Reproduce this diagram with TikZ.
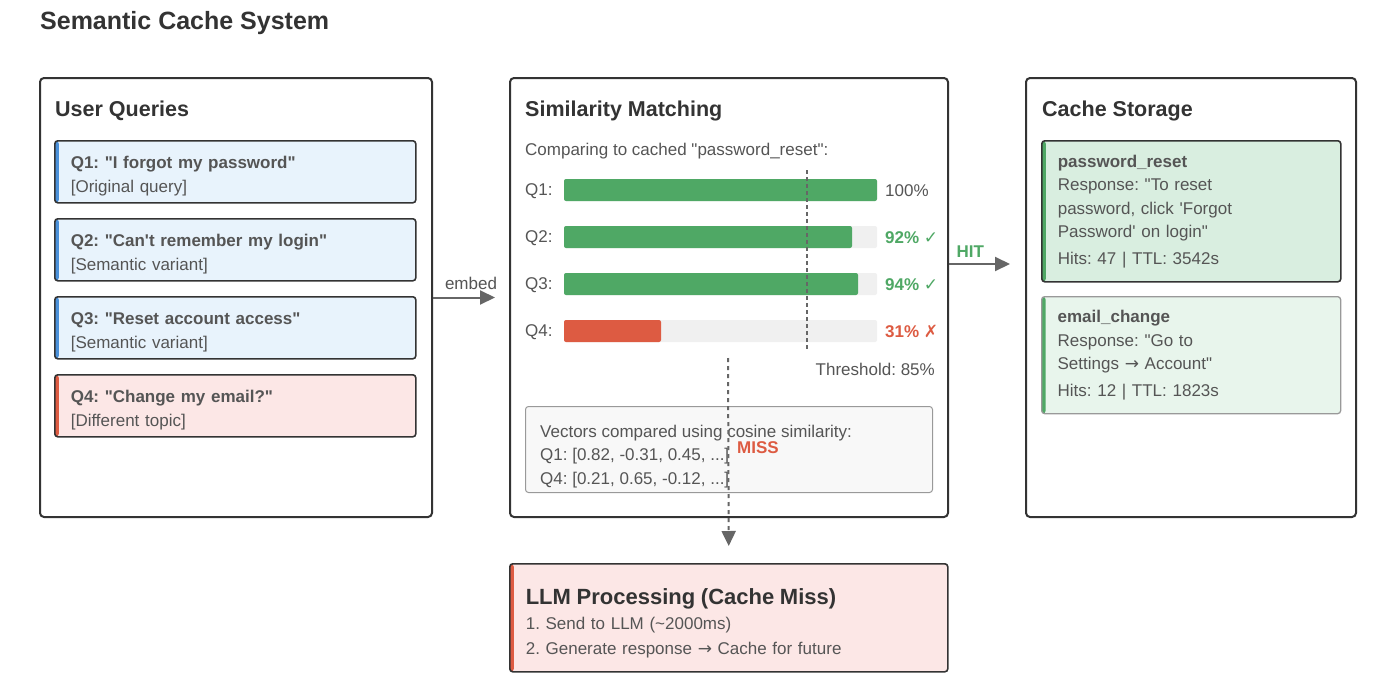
\documentclass[tikz,border=0pt]{standalone}
\usepackage{fontspec}
\setmainfont{Liberation Sans}[Ligatures=TeXOff]
\newfontfamily\simbolos{DejaVu Sans}
\usetikzlibrary{arrows.meta,calc}
\frenchspacing
\definecolor{borde}{HTML}{333333}
\definecolor{texto}{HTML}{555555}
\definecolor{flechagris}{HTML}{666666}
\definecolor{azul}{HTML}{4A90D9}
\definecolor{azulclaro}{HTML}{E8F3FC}
\definecolor{rojo}{HTML}{DD5B42}
\definecolor{rojoclaro}{HTML}{FCE7E6}
\definecolor{verde}{HTML}{4FA865}
\definecolor{verdeclaro}{HTML}{D9EEE0}
\definecolor{verdepalido}{HTML}{E8F5EC}
\definecolor{grisclaro}{HTML}{F0F0F0}
\definecolor{gris}{HTML}{999999}
\definecolor{grisfondo}{HTML}{F8F8F8}
\newcommand\cuerpo{\fontsize{17}{23.5}\selectfont}
\tikzset{
  panel/.style={draw=borde,line width=2pt,rounded corners=4pt,fill=white,anchor=north west,inner sep=0pt,minimum height=439pt},
  encabezado/.style={anchor=base west,inner sep=0pt,text=borde,font=\fontsize{21.5}{25}\selectfont\bfseries},
  etiqueta/.style={anchor=base west,inner sep=0pt,text=texto,font=\cuerpo},
  caja/.style={draw=borde,line width=1.6pt,rounded corners=3pt,anchor=north west,align=left,
    inner xsep=16pt,inner ysep=0pt,text=texto,font=\cuerpo,
    path picture={\fill[#1] (path picture bounding box.north west) rectangle ([xshift=4pt]path picture bounding box.south west);}},
  hueco/.style={execute at begin node={\rule{0pt}{#1}}},
  consulta/.style={caja=#1,text width=329pt,minimum height=62pt,hueco=21pt},
  flecha/.style={draw=flechagris,line width=2pt,-{Triangle[width=14pt,length=15pt]}},
  umbral/.style={draw=flechagris,line width=1.2pt,dash pattern=on 4pt off 3pt}
}

\begin{document}
\begin{tikzpicture}[x=1pt,y=-1pt]
\fill[white] (0,0) rectangle (1393,696);
\useasboundingbox (0,0) rectangle (1393,696);

\node[anchor=base west,inner sep=0pt,text=borde,font=\fontsize{25}{30}\selectfont\bfseries] (titulo) at (40,30) {Semantic Cache System};

% tres paneles
\node[panel,minimum width=392pt] (consultas) at (39,77) {};
\node[panel,minimum width=438pt] (similitud) at (509,77) {};
\node[panel,minimum width=330pt] (almacen) at (1025,77) {};

\node[encabezado] (tconsultas) at (55,116) {User Queries};
\node[encabezado] (tsimilitud) at (525,116) {Similarity Matching};
\node[encabezado] (talmacen) at (1042,116) {Cache Storage};

% consultas
\node[consulta=azul,fill=azulclaro] (q1) at (54,140)
{\textbf{Q1: "I forgot my password"}\\{}[Original query]};
\node[consulta=azul,fill=azulclaro] (q2) at (54,218)
{\textbf{Q2: "Can't remember my login"}\\{}[Semantic variant]};
\node[consulta=azul,fill=azulclaro] (q3) at (54,296)
{\textbf{Q3: "Reset account access"}\\{}[Semantic variant]};
\node[consulta=rojo,fill=rojoclaro] (q4) at (54,374)
{\textbf{Q4: "Change my email?"}\\{}[Different topic]};

% similitud
\node[etiqueta] (comparando) at (525,155) {Comparing to cached "password\_reset":};
\foreach \q/\y/\fin/\col in {1/190/877/verde,2/237/852/verde,3/284/858/verde,4/331/661/rojo}{
  \node[etiqueta] (lq\q) at (525,\y+5) {Q\q:};
  \fill[grisclaro,rounded corners=2pt] (564,\y-11) rectangle (877,\y+11);
  \fill[\col,rounded corners=2pt] (564,\y-11) rectangle (\fin,\y+11);
}
\node[etiqueta] (p1) at (885,196) {100\%};
\node[etiqueta,text=verde,font=\cuerpo\bfseries] (p2) at (885,243) {92\% {\simbolos ✓}};
\node[etiqueta,text=verde,font=\cuerpo\bfseries] (p3) at (885,290) {94\% {\simbolos ✓}};
\node[etiqueta,text=rojo,font=\cuerpo\bfseries] (p4) at (885,337) {31\% {\simbolos ✗}};
\draw[umbral] (807,170) -- (807,351);
\node[etiqueta,anchor=base east] (umbraltxt) at (935,375) {Threshold: 85\%};

\node[draw=gris,fill=grisfondo,line width=1pt,rounded corners=3pt,anchor=north west,
  minimum width=407pt,minimum height=86pt] (vectores) at (525,406) {};
\node[etiqueta,align=left] (vectorestxt) at (540,484)
{Vectors compared using cosine similarity:\\Q1: [0.82, -0.31, 0.45, ...]\\Q4: [0.21, 0.65, -0.12, ...]};

% almacen
\node[caja=verde,fill=verdeclaro,text width=267pt,minimum width=299pt,minimum height=141pt] (reset) at (1041,140)
{\textbf{password\_reset}\\Response: "To reset\\password, click 'Forgot\\Password' on login"\\[3pt]Hits: 47 | TTL: 3542s};
\node[caja=verde,draw=gris,line width=1.3pt,fill=verdepalido,text width=267pt,minimum width=299pt,minimum height=117pt] (email) at (1041,296)
{\textbf{email\_change}\\Response: "Go to\\Settings {\simbolos →} Account"\\[3pt]Hits: 12 | TTL: 1823s};

% LLM
\node[caja=rojo,fill=rojoclaro,text width=406pt,minimum width=438pt,minimum height=108pt,hueco=27pt] (llm) at (509,563)
{{\fontsize{22}{26}\selectfont\bfseries\color{borde}LLM Processing (Cache Miss)}\\[1.5pt]1. Send to LLM (\textasciitilde2000ms)\\[1.5pt]2. Generate response {\simbolos →} Cache for future};

% flechas
\coordinate (hity) at (0,264);
\coordinate (missinicio) at (728,358);
\draw[flecha,shorten >=14pt] (consultas.east) -- node[etiqueta,anchor=south,pos=0.5,yshift=7pt] (embed) {embed} (similitud.west);
\draw[flecha,shorten >=15pt] (similitud.east |- hity) -- node[anchor=south,inner sep=0pt,pos=0.28,yshift=6pt,text=verde,font=\cuerpo\bfseries] (hit) {HIT} (almacen.west |- hity);
\draw[flecha,dash pattern=on 4pt off 4pt,shorten >=17pt] (missinicio) -- (llm.north);
\node[etiqueta,text=rojo,font=\cuerpo\bfseries] (miss) at (737,453) {MISS};
\end{tikzpicture}
\end{document}
